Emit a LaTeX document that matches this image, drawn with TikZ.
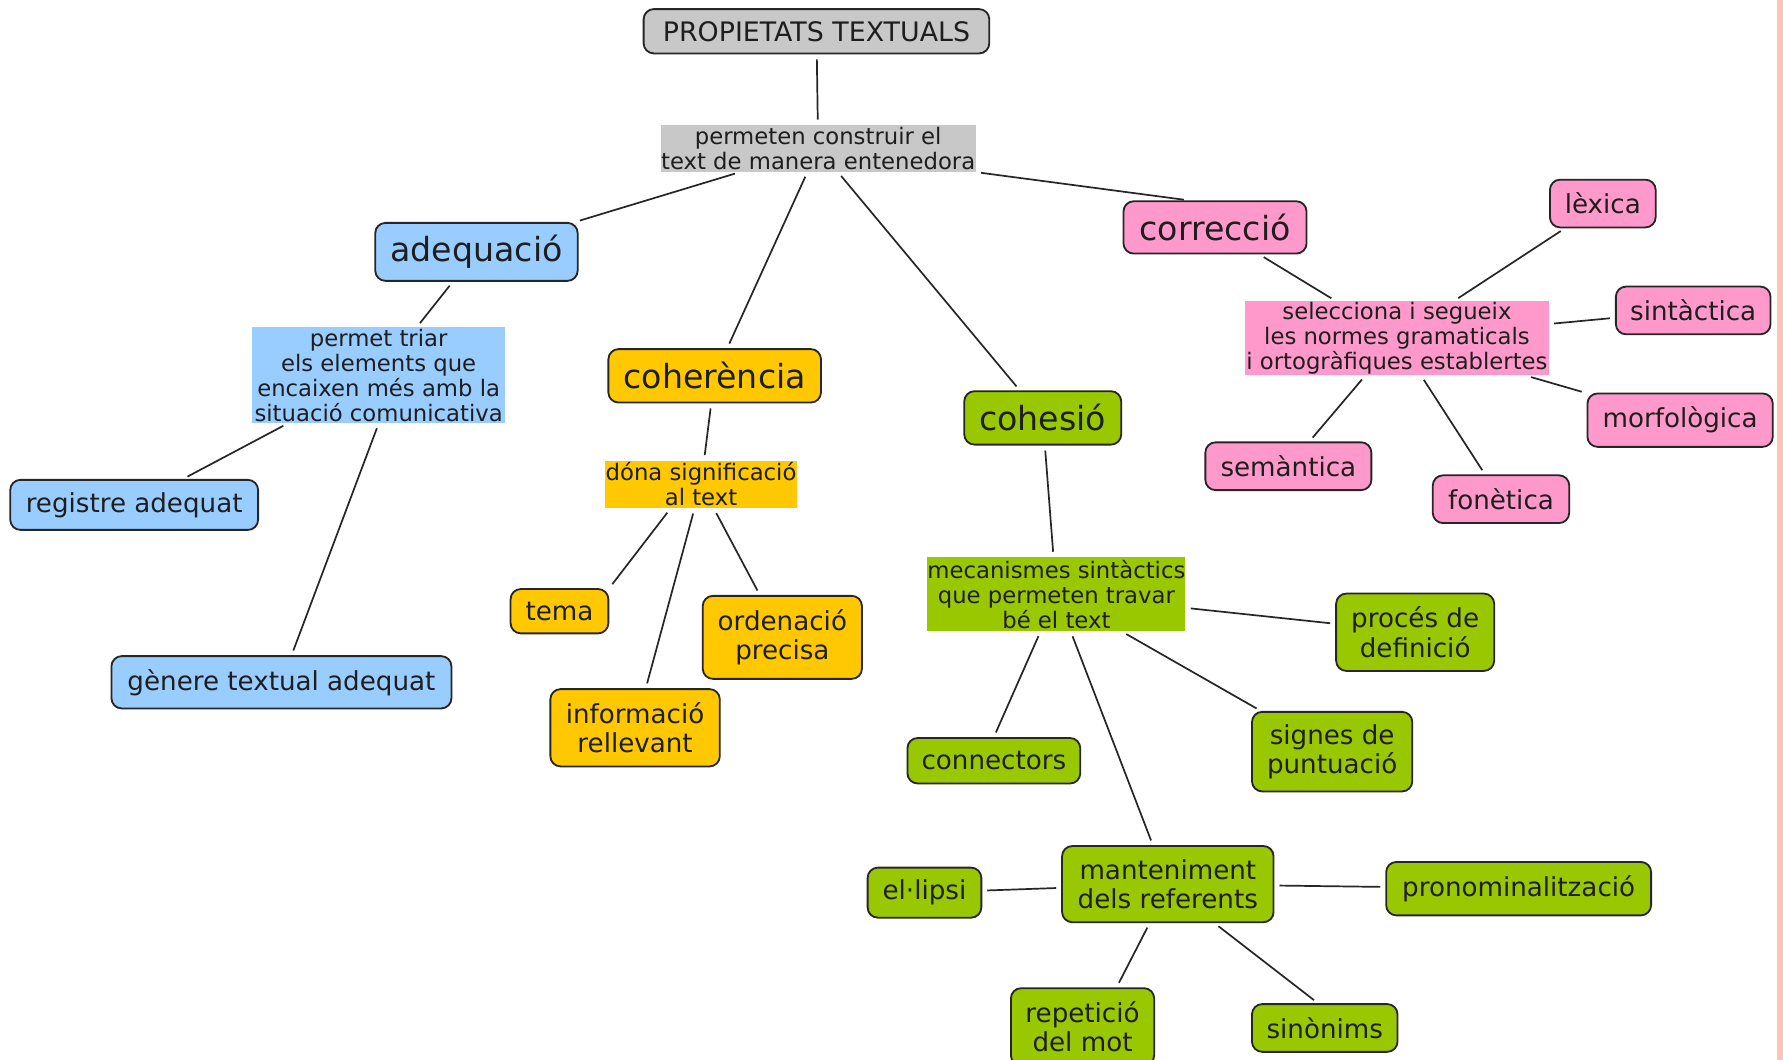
\documentclass[tikz,border=0pt]{standalone}
\usepackage{fontspec}
\setmainfont{DejaVu Sans}
\definecolor{cgray}{HTML}{C8C8C8}
\definecolor{cblue}{HTML}{99CCFF}
\definecolor{corange}{HTML}{FFC800}
\definecolor{cgreen}{HTML}{99C800}
\definecolor{cpink}{HTML}{FF99CC}
\definecolor{cstrip}{HTML}{FDC6B2}
\definecolor{ctext}{HTML}{1E1E1E}
\definecolor{cline}{HTML}{262626}
\tikzset{
  cbox/.style={rectangle, rounded corners=4.5pt, draw=cline, line width=0.8pt, align=center, inner sep=0pt, text=ctext},
  pbox/.style={rectangle, inner sep=0pt, align=center, text=ctext, smalltxt},
  bigtxt/.style={font=\fontsize{14.6}{17}\selectfont},
  midtxt/.style={font=\fontsize{11.5}{13}\selectfont},
  toptxt/.style={font=\fontsize{11.8}{13}\selectfont},
  smalltxt/.style={font=\fontsize{10}{11}\selectfont},
  link/.style={draw=cline, line width=0.75pt, shorten <=2.2pt, shorten >=2.2pt},
}
\begin{document}
\begin{tikzpicture}[x=0.5pt,y=-0.5pt]
\useasboundingbox (0,0) rectangle (1568,932);
\clip (0,0) rectangle (1568,932);
\fill[white] (0,0) rectangle (1568,932);
\fill[cstrip] (1562.7,0) rectangle (1568,932);

% nodes
\node[cbox, fill=cgray, toptxt, minimum width=152pt, minimum height=19.5pt] (top) at (718,27.5) {PROPIETATS TEXTUALS};
\node[pbox, fill=cgray, minimum width=138.5pt, minimum height=20.5pt] (perm) at (719.5,130.5) {permeten construir el\\text de manera entenedora};

\node[cbox, fill=cblue, bigtxt, minimum width=89pt, minimum height=25.5pt] (adeq) at (419,221.5) {adequació};
\node[cbox, fill=corange, bigtxt, minimum width=93.5pt, minimum height=23.5pt] (coher) at (628.5,330.5) {coherència};
\node[cbox, fill=cgreen, bigtxt, minimum width=69pt, minimum height=23.5pt] (cohes) at (917,367.5) {cohesió};
\node[cbox, fill=cpink, bigtxt, minimum width=80.5pt, minimum height=23pt] (correc) at (1068.5,200) {correcció};

\node[pbox, fill=cblue, minimum width=111pt, minimum height=42pt] (triar) at (333,330) {permet triar\\els elements que\\encaixen més amb la\\situació comunicativa};
\node[cbox, fill=cblue, midtxt, minimum width=109pt, minimum height=22pt] (registre) at (118,444) {registre adequat};
\node[cbox, fill=cblue, midtxt, minimum width=149.5pt, minimum height=23pt] (genere) at (247.5,600) {gènere textual adequat};

\node[pbox, fill=corange, minimum width=84.5pt, minimum height=21pt] (dona) at (616.5,426) {dóna significació\\al text};
\node[cbox, fill=corange, midtxt, minimum width=43pt, minimum height=19.5pt] (tema) at (492,537.5) {tema};
\node[cbox, fill=corange, midtxt, minimum width=70pt, minimum height=36.5pt] (orden) at (688,560.5) {ordenació\\precisa};
\node[cbox, fill=corange, midtxt, minimum width=74.5pt, minimum height=34pt] (info) at (558.5,640) {informació\\rellevant};

\node[pbox, fill=cgreen, minimum width=113pt, minimum height=32.5pt] (mec) at (929,522.5) {mecanismes sintàctics\\que permeten travar\\bé el text};
\node[cbox, fill=cgreen, midtxt, minimum width=69.5pt, minimum height=34pt] (proces) at (1244.5,556) {procés de\\definició};
\node[cbox, fill=cgreen, midtxt, minimum width=76pt, minimum height=20pt] (conn) at (874,669) {connectors};
\node[cbox, fill=cgreen, midtxt, minimum width=70.5pt, minimum height=35pt] (signes) at (1171.5,661) {signes de\\puntuació};
\node[cbox, fill=cgreen, midtxt, minimum width=93pt, minimum height=33.5pt] (mant) at (1027,777.5) {manteniment\\dels referents};
\node[cbox, fill=cgreen, midtxt, minimum width=50pt, minimum height=22pt] (elip) at (813,785) {el·lipsi};
\node[cbox, fill=cgreen, midtxt, minimum width=116.5pt, minimum height=23.5pt] (pron) at (1335.5,781.5) {pronominalització};
\node[cbox, fill=cgreen, midtxt, minimum width=63pt, minimum height=34pt] (repet) at (952,903) {repetició\\del mot};
\node[cbox, fill=cgreen, midtxt, minimum width=64pt, minimum height=21pt] (sinon) at (1165,904) {sinònims};

\node[pbox, fill=cpink, minimum width=133.5pt, minimum height=32.5pt] (selec) at (1228.5,297.5) {selecciona i segueix\\les normes gramaticals\\i ortogràfiques establertes};
\node[cbox, fill=cpink, midtxt, minimum width=46.5pt, minimum height=21pt] (lexica) at (1409.5,179) {lèxica};
\node[cbox, fill=cpink, midtxt, minimum width=68pt, minimum height=21pt] (sintac) at (1489,273) {sintàctica};
\node[cbox, fill=cpink, midtxt, minimum width=81.5pt, minimum height=23.5pt] (morfo) at (1477.5,369.5) {morfològica};
\node[cbox, fill=cpink, midtxt, minimum width=73pt, minimum height=21pt] (seman) at (1133,410) {semàntica};
\node[cbox, fill=cpink, midtxt, minimum width=60pt, minimum height=21pt] (fonet) at (1320,439) {fonètica};

% connectors
\draw[link] (top) -- (perm);
\draw[link] (perm) -- (adeq);
\draw[link] (perm) -- (coher);
\draw[link] (perm) -- (cohes);
\draw[link] (perm.south east) -- ([xshift=-11.5pt]correc.north);

\draw[link] (adeq) -- (triar);
\draw[link] (triar) -- (registre);
\draw[link] (triar.south) -- (genere);

\draw[link] (coher) -- (dona);
\draw[link] ([xshift=-13.5pt]dona.south) -- (tema.north east);
\draw[link] (dona) -- (info);
\draw[link] (dona) -- (orden);

\draw[link] (cohes) -- (mec);
\draw[link] (mec) -- (proces);
\draw[link] ([xshift=-7pt]mec.south) -- (conn.north);
\draw[link] (mec) -- (mant);
\draw[link] (mec) -- (signes);

\draw[link] (mant) -- (elip);
\draw[link] (mant) -- (pron);
\draw[link] ([xshift=-8pt]mant.south) -- ([xshift=15pt]repet.north);
\draw[link] ([xshift=20.5pt]mant.south) -- ([xshift=-3pt]sinon.north);

\draw[link] (correc) -- (selec);
\draw[link] (selec) -- (lexica);
\draw[link] (selec) -- (sintac);
\draw[link] (selec) -- (morfo);
\draw[link] (selec) -- (seman);
\draw[link] (selec) -- (fonet);
\end{tikzpicture}
\end{document}
